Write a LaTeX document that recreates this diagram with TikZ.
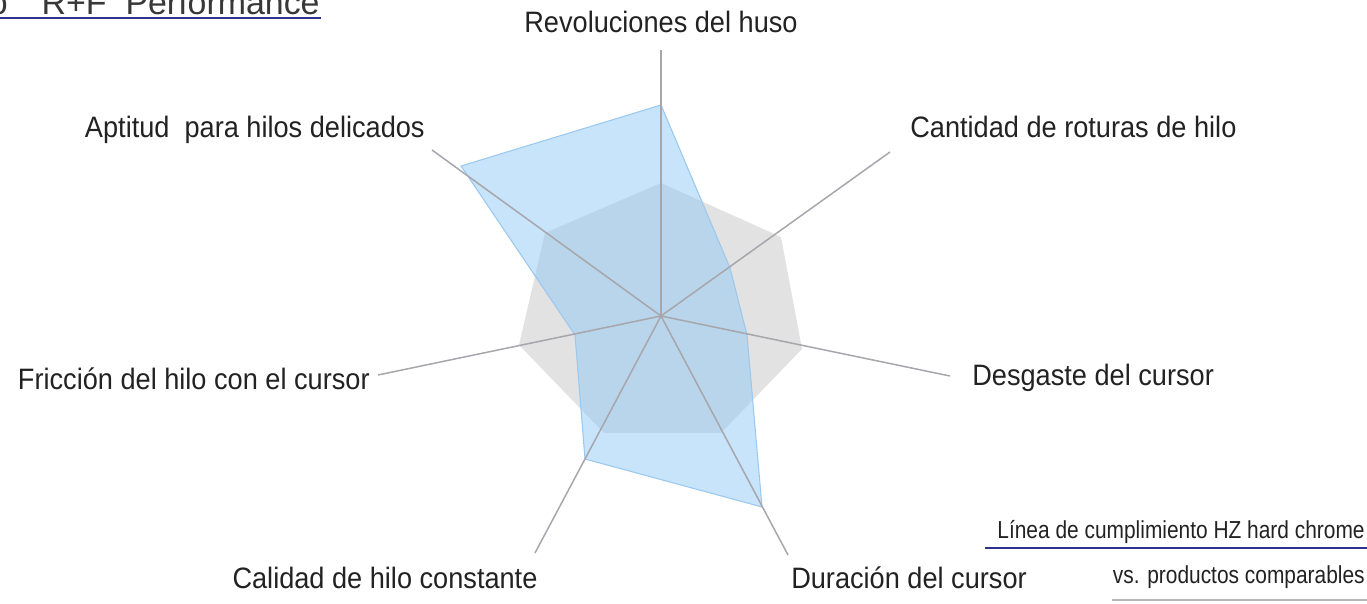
\documentclass[tikz,border=0pt]{standalone}
\usepackage{fontspec}
\setmainfont{Liberation Sans}
\newfontfamily\labelfont[FakeStretch=0.92]{Liberation Sans}
\newfontfamily\legendfont[FakeStretch=0.85]{Liberation Sans}
\usetikzlibrary{positioning}
\definecolor{spokegray}{RGB}{166,166,172}
\definecolor{refgray}{RGB}{226,226,226}
\definecolor{hzblue}{RGB}{145,201,245}
\definecolor{hzedge}{RGB}{155,200,238}
\definecolor{navy}{RGB}{46,49,146}
\definecolor{ink}{RGB}{34,34,34}
\tikzset{x=0.02cm,y=-0.02cm}
\tikzset{spoke/.style={draw=spokegray,line width=0.85pt},
         axislabel/.style={font=\labelfont\fontsize{16.8}{20}\selectfont,text=ink,inner sep=0pt},
         legendtext/.style={font=\legendfont\fontsize{14}{16}\selectfont,text=ink,inner sep=0pt}}

\begin{document}
\begin{tikzpicture}
    \useasboundingbox (0,0) rectangle (1367,604);
    % centre and axis ends
    \coordinate (c)  at (661,316);
    \coordinate (e1) at (661,50);
    \coordinate (e2) at (890,152);
    \coordinate (e3) at (950,376);
    \coordinate (e4) at (788,555);
    \coordinate (e5) at (535,553);
    \coordinate (e6) at (378,375);
    \coordinate (e7) at (432,150);
    % comparable products
    \coordinate (g1) at (661,183);
    \coordinate (g2) at (781,237);
    \coordinate (g3) at (802,349);
    \coordinate (g4) at (721,433);
    \coordinate (g5) at (604,433);
    \coordinate (g6) at (519,345);
    \coordinate (g7) at (545,233);
    % HZ hard chrome
    \coordinate (b1) at (661,105);
    \coordinate (b2) at (730,268);
    \coordinate (b3) at (747,335);
    \coordinate (b4) at (762,507);
    \coordinate (b5) at (585,459);
    \coordinate (b6) at (575,335);
    \coordinate (b7) at (461,166);

    \fill[refgray] (g1) -- (g2) -- (g3) -- (g4) -- (g5) -- (g6) -- (g7) -- cycle;
    \filldraw[fill=hzblue,fill opacity=0.5,draw=hzedge,line width=0.6pt]
        (b1) -- (b2) -- (b3) -- (b4) -- (b5) -- (b6) -- (b7) -- cycle;
    \foreach \i in {1,...,7}
        \draw[spoke] (c) -- (e\i);

    \node[axislabel,anchor=mid]      (rev)  at (661,28)  {Revoluciones del huso};
    \node[axislabel,anchor=mid west] (cant) at (910,133) {Cantidad de roturas de hilo};
    \node[axislabel,anchor=mid east] (apt)  at (425,133) {Aptitud\ \ para hilos delicados};
    \node[axislabel,anchor=mid east] (fric) at (370,385) {Fricción del hilo con el cursor};
    \node[axislabel,anchor=mid west] (desg) at (972,381) {Desgaste del cursor};
    \node[axislabel,anchor=mid]      (cal)  at (385,584) {Calidad de hilo constante};
    \node[axislabel,anchor=mid]      (dur)  at (909,584) {Duración del cursor};

    % title, cut by the page edge
    \node[font=\fontsize{19.3}{22}\selectfont,text=ink!90,inner sep=0pt,anchor=base east]
        (title) at (320,15) {o\hspace{1em}R+F\ \ Performance};
    \coordinate (t0) at (0,18);
    \coordinate (t1) at (321,18);
    \draw[navy,line width=1.2pt] (t0) -- (t1);

    % legend
    \node[legendtext,anchor=mid east] (hz) at (1365,534) {Línea de cumplimiento HZ hard chrome};
    \node[legendtext,anchor=mid east] (vs) at (1365,579) {vs. productos comparables};
    \coordinate (h0) at (985,548);
    \coordinate (h1) at (1367,548);
    \coordinate (v0) at (1112,600);
    \coordinate (v1) at (1367,600);
    \draw[navy,line width=1.2pt] (h0) -- (h1);
    \draw[refgray!80!black,line width=0.6pt] (v0) -- (v1);
\end{tikzpicture}
\end{document}
